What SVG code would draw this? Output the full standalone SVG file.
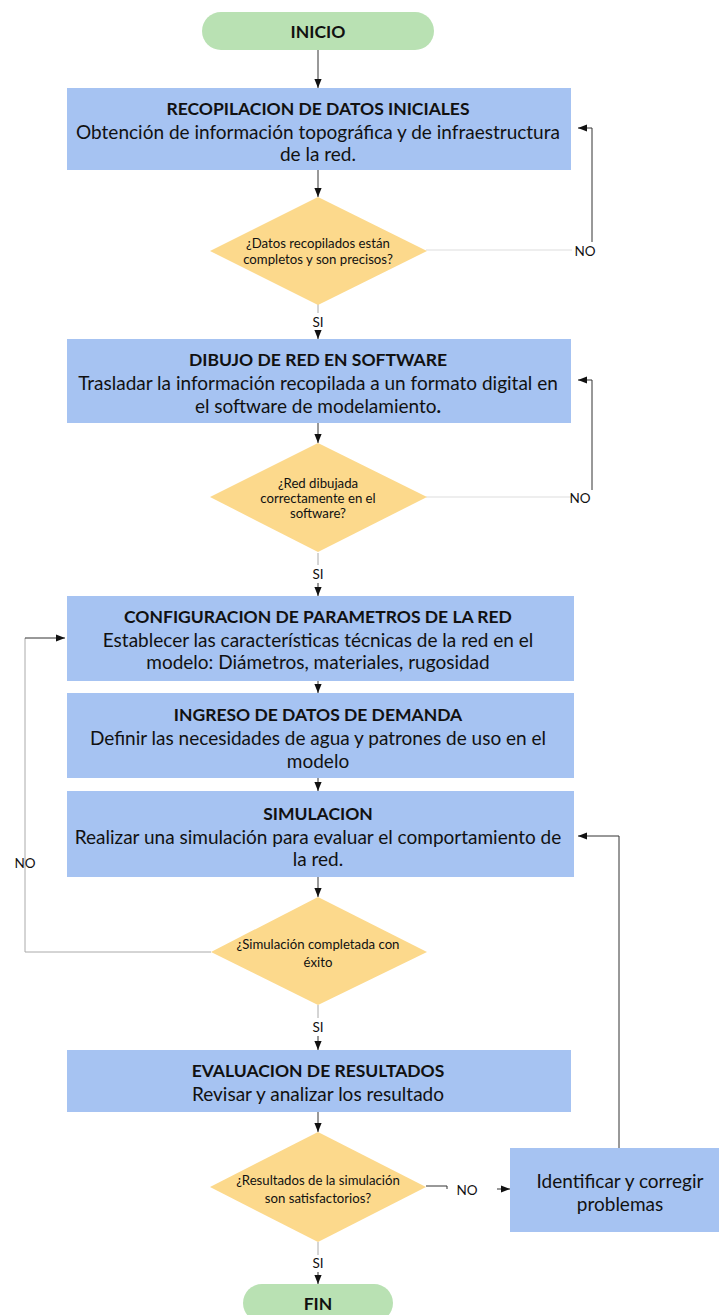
<svg xmlns="http://www.w3.org/2000/svg" width="719" height="1315" viewBox="0 0 719 1315">
<style>
.term{fill:#b9e1b3;}
.box{fill:#a6c3f2;}
.dec{fill:#fcd98c;}
text{font-family:Lato,"Liberation Sans",sans-serif;fill:#111;text-anchor:middle;dominant-baseline:central;}
.t{font-weight:bold;font-size:17.5px;}
.b{font-size:19px;}
.d{font-size:13.2px;}
.l{font-size:13.5px;}
.c{stroke:#333;stroke-width:1;fill:none;}
.g{stroke:#aaa;stroke-width:1;fill:none;}
.lg{stroke:#ddd;stroke-width:1;fill:none;}
</style>
<defs>
<marker id="ah" viewBox="0 0 10 10" refX="10" refY="5" markerWidth="9" markerHeight="9" markerUnits="userSpaceOnUse" orient="auto">
<path d="M0,1 L10,5 L0,9 z" fill="#111"/>
</marker>
</defs>
<rect width="719" height="1315" fill="#fff"/>

<g id="connectors">
<line class="c" x1="318" y1="50" x2="318" y2="88" marker-end="url(#ah)"/>
<line class="c" x1="318" y1="170" x2="318" y2="197" marker-end="url(#ah)"/>
<line class="lg" x1="426" y1="250" x2="572" y2="250"/>
<polyline class="c" points="592,242 592,128 578,128" marker-end="url(#ah)"/>
<line class="g" x1="318" y1="304" x2="318" y2="313"/>
<line class="c" x1="318" y1="331" x2="318" y2="339" marker-end="url(#ah)"/>
<line class="c" x1="318" y1="423" x2="318" y2="443" marker-end="url(#ah)"/>
<line class="lg" x1="426" y1="497" x2="572" y2="497"/>
<polyline class="c" points="592,490 592,380 578,380" marker-end="url(#ah)"/>
<line class="g" x1="318" y1="553" x2="318" y2="565"/>
<line class="c" x1="318" y1="583" x2="318" y2="596" marker-end="url(#ah)"/>
<line class="c" x1="318" y1="681" x2="318" y2="693" marker-end="url(#ah)"/>
<line class="c" x1="318" y1="778" x2="318" y2="791" marker-end="url(#ah)"/>
<line class="c" x1="318" y1="877" x2="318" y2="897" marker-end="url(#ah)"/>
<polyline class="g" points="211,952 25,952 25,638"/>
<line class="c" x1="25" y1="638" x2="65" y2="638" marker-end="url(#ah)"/>
<line class="g" x1="318" y1="1005" x2="318" y2="1018"/>
<line class="c" x1="318" y1="1036" x2="318" y2="1050" marker-end="url(#ah)"/>
<line class="c" x1="318" y1="1112" x2="318" y2="1132" marker-end="url(#ah)"/>
<polyline class="c" points="426,1186 447,1186 447,1189"/>
<line class="c" x1="497" y1="1189" x2="510" y2="1189" marker-end="url(#ah)"/>
<polyline class="c" points="619,1148 619,836 578,836" marker-end="url(#ah)"/>
<line class="g" x1="318" y1="1242" x2="318" y2="1255"/>
<line class="c" x1="318" y1="1272" x2="318" y2="1284" marker-end="url(#ah)"/>
<text class="l" x="585" y="251">NO</text>
<text class="l" x="580" y="498">NO</text>
<text class="l" x="25" y="863">NO</text>
<text class="l" x="467" y="1190">NO</text>
<text class="l" x="318" y="322">SI</text>
<text class="l" x="318" y="574">SI</text>
<text class="l" x="318" y="1027">SI</text>
<text class="l" x="318" y="1263">SI</text>
</g>

<g id="inicio">
<rect class="term" x="202" y="12" width="232" height="38" rx="19"/>
<text class="t" x="318" y="31">INICIO</text>
</g>

<g id="recopilacion">
<rect class="box" x="67" y="88" width="504" height="82"/>
<text class="t" x="318" y="108">RECOPILACION DE DATOS INICIALES</text>
<text class="b" x="318" y="131">Obtención de información topográfica y de infraestructura</text>
<text class="b" x="318" y="153">de la red.</text>
</g>

<g id="decision-datos">
<polygon class="dec" points="318,197 427,251 318,305 210,251"/>
<text class="d" x="318" y="243">¿Datos recopilados están</text>
<text class="d" x="318" y="259">completos y son precisos?</text>
</g>

<g id="dibujo">
<rect class="box" x="67" y="339" width="504" height="84"/>
<text class="t" x="318" y="359">DIBUJO DE RED EN SOFTWARE</text>
<text class="b" x="318" y="382">Trasladar la información recopilada a un formato digital en</text>
<text class="b" x="318" y="405">el software de modelamiento<tspan font-weight="bold">.</tspan></text>
</g>

<g id="decision-red">
<polygon class="dec" points="318,443 427,497 318,552 210,497"/>
<text class="d" x="318" y="483">¿Red dibujada</text>
<text class="d" x="318" y="498">correctamente en el</text>
<text class="d" x="318" y="513">software?</text>
</g>

<g id="configuracion">
<rect class="box" x="67" y="596" width="507" height="85"/>
<text class="t" x="318" y="616">CONFIGURACION DE PARAMETROS DE LA RED</text>
<text class="b" x="318" y="639">Establecer las características técnicas de la red en el</text>
<text class="b" x="318" y="661">modelo: Diámetros, materiales, rugosidad</text>
</g>

<g id="demanda">
<rect class="box" x="67" y="693" width="507" height="85"/>
<text class="t" x="318" y="714">INGRESO DE DATOS DE DEMANDA</text>
<text class="b" x="318" y="737">Definir las necesidades de agua y patrones de uso en el</text>
<text class="b" x="318" y="760">modelo</text>
</g>

<g id="simulacion">
<rect class="box" x="67" y="791" width="507" height="86"/>
<text class="t" x="318" y="813">SIMULACION</text>
<text class="b" x="318" y="836">Realizar una simulación para evaluar el comportamiento de</text>
<text class="b" x="318" y="858">la red.</text>
</g>

<g id="decision-simulacion">
<polygon class="dec" points="318,897 427,952 318,1005 211,952"/>
<text class="d" x="318" y="944">¿Simulación completada con</text>
<text class="d" x="318" y="962">éxito</text>
</g>

<g id="evaluacion">
<rect class="box" x="67" y="1050" width="504" height="62"/>
<text class="t" x="318" y="1070">EVALUACION DE RESULTADOS</text>
<text class="b" x="318" y="1093">Revisar y analizar los resultado</text>
</g>

<g id="decision-resultados">
<polygon class="dec" points="318,1132 426,1187 318,1242 210,1187"/>
<text class="d" x="318" y="1180">¿Resultados de la simulación</text>
<text class="d" x="318" y="1198">son satisfactorios?</text>
</g>

<g id="corregir">
<rect class="box" x="510" y="1148" width="212" height="84"/>
<text class="b" x="620" y="1180">Identificar y corregir</text>
<text class="b" x="620" y="1203">problemas</text>
</g>

<g id="fin">
<rect class="term" x="243" y="1284" width="150" height="38" rx="19"/>
<text class="t" x="318" y="1303">FIN</text>
</g>
</svg>
